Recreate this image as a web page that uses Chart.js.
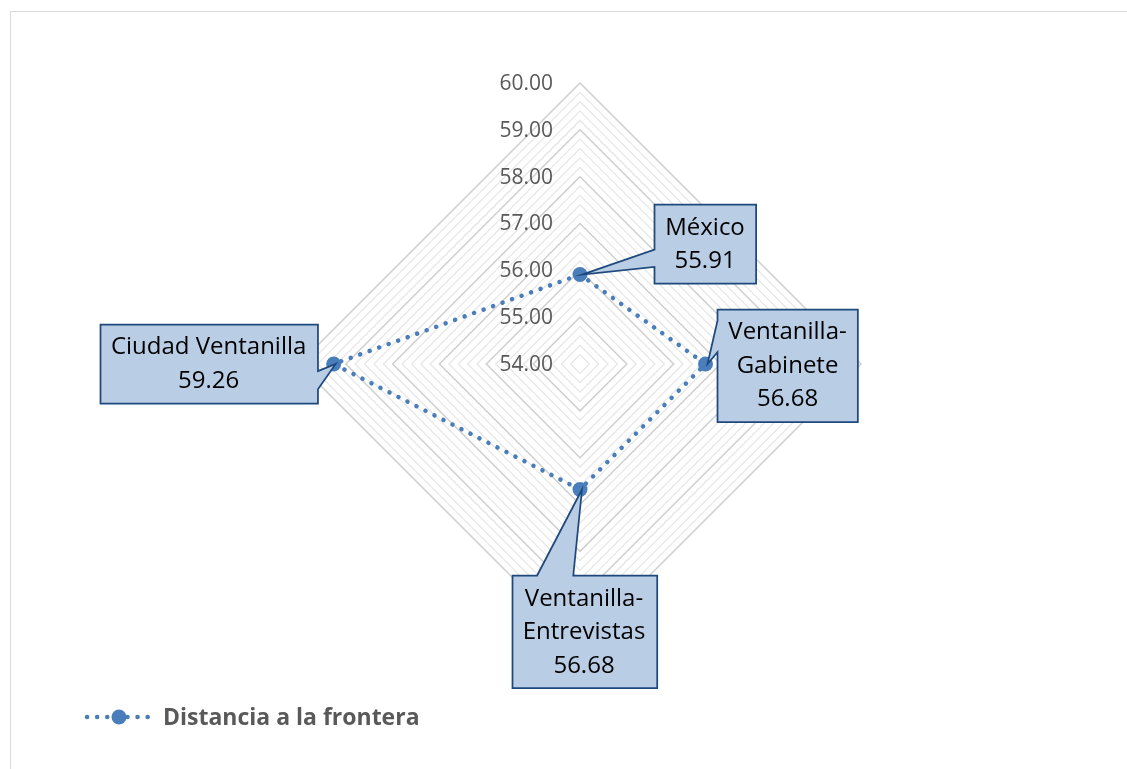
<!DOCTYPE html>
<html>
<head>
<meta charset="utf-8">
<script src="https://cdn.jsdelivr.net/npm/chart.js@4.4.1/dist/chart.umd.min.js"></script>
<style>
    body { margin: 0; background: #fff; overflow: hidden; }
    #frame { position: absolute; left: 10px; top: 11px; width: 1200px; height: 800px; border: 1px solid #d9d9d9; }
    #wrap { position: absolute; left: 0; top: 0; width: 1127px; height: 769px; }
</style>
</head>
<body>
<div id="frame"></div>
<div id="wrap"><canvas id="Chart"></canvas></div>
<script>
// data
const categories = ['México', 'Ventanilla-Gabinete', 'Ventanilla-Entrevistas', 'Ciudad Ventanilla'];
const distance = [55.91, 56.68, 56.68, 59.26];
const seriesName = 'Distancia a la frontera';
const tickLabels = [54, 55, 56, 57, 58, 59, 60];

const blue = '#4a7ebb';

// where each callout box sits relative to its point, and which edge the wedge comes out of
const calloutPlace = [
    { dx: 125, dy: -31, edge: 'left', b0: 0.57, b1: 0.79 },
    { dx: 82, dy: 1, edge: 'left', b0: 0.1, b1: 0.38 },
    { dx: 4, dy: 142, edge: 'top', b0: 0.17, b1: 0.42 },
    { dx: -125, dy: -1, edge: 'right', b0: 0.59, b1: 0.82 }
];

function calloutLines(i) {
    var name = categories[i];
    var lines = [];
    if (name.indexOf('-') > 0) {
        var parts = name.split('-');
        lines.push(parts[0] + '-');
        lines.push(parts[1]);
    } else {
        lines.push(name);
    }
    lines.push(distance[i].toFixed(2));
    return lines;
}

function drawCallout(ctx, tipX, tipY, x0, y0, x1, y1, place) {
    var w = x1 - x0, h = y1 - y0;
    ctx.beginPath();
    ctx.moveTo(x0, y0);
    if (place.edge == 'top') {
        ctx.lineTo(x0 + place.b0 * w, y0);
        ctx.lineTo(tipX, tipY);
        ctx.lineTo(x0 + place.b1 * w, y0);
    }
    ctx.lineTo(x1, y0);
    if (place.edge == 'right') {
        ctx.lineTo(x1, y0 + place.b0 * h);
        ctx.lineTo(tipX, tipY);
        ctx.lineTo(x1, y0 + place.b1 * h);
    }
    ctx.lineTo(x1, y1);
    ctx.lineTo(x0, y1);
    if (place.edge == 'left') {
        ctx.lineTo(x0, y0 + place.b1 * h);
        ctx.lineTo(tipX, tipY);
        ctx.lineTo(x0, y0 + place.b0 * h);
    }
    ctx.closePath();
    ctx.fillStyle = '#b9cde5';
    ctx.fill();
    ctx.strokeStyle = '#1f497d';
    ctx.lineWidth = 1.75;
    ctx.lineJoin = 'miter';
    ctx.stroke();
}

const extras = {
    id: 'extras',
    beforeDatasetsDraw(chart) {
        // tick labels, to the left of the vertical axis
        var ctx = chart.ctx;
        var scale = chart.scales.r;
        ctx.save();
        ctx.font = '21px "Open Sans"';
        ctx.fillStyle = '#595959';
        ctx.textAlign = 'right';
        ctx.textBaseline = 'middle';
        tickLabels.forEach(function (v) {
            var y = scale.yCenter - scale.getDistanceFromCenterForValue(v);
            ctx.fillText(v.toFixed(2), scale.xCenter - 27, y + 1);
        });
        ctx.restore();
    },
    afterDatasetsDraw(chart) {
        var ctx = chart.ctx;
        var meta = chart.getDatasetMeta(0);
        ctx.save();
        ctx.font = '24px "Open Sans"';
        ctx.textAlign = 'center';
        ctx.textBaseline = 'middle';
        var lineH = 33.5;
        meta.data.forEach(function (pt, i) {
            var place = calloutPlace[i];
            var lines = calloutLines(i);
            var tw = 0;
            lines.forEach(function (l) { tw = Math.max(tw, ctx.measureText(l).width); });
            var bw = tw + 22;
            var bh = lines.length * lineH + 12;
            var cx = pt.x + place.dx, cy = pt.y + place.dy;
            var x0 = Math.round(cx - bw / 2) + 0.5, y0 = Math.round(cy - bh / 2) + 0.5;
            drawCallout(ctx, pt.x + 2, pt.y, x0, y0, x0 + bw, y0 + bh, place);
            ctx.fillStyle = '#000000';
            lines.forEach(function (l, k) {
                ctx.fillText(l, cx, cy + (k - (lines.length - 1) / 2) * lineH + 1);
            });
        });
        ctx.restore();
    },
    afterDraw(chart) {
        // legend at the bottom left
        var ctx = chart.ctx;
        ctx.save();
        var y = 717;
        ctx.beginPath();
        ctx.moveTo(87, y);
        ctx.lineTo(154, y);
        ctx.setLineDash([0.1, 10]);
        ctx.lineCap = 'round';
        ctx.lineWidth = 4.5;
        ctx.strokeStyle = blue;
        ctx.stroke();
        ctx.setLineDash([]);
        ctx.beginPath();
        ctx.arc(119, y, 7.5, 0, Math.PI * 2);
        ctx.fillStyle = blue;
        ctx.fill();
        ctx.font = 'bold 23px "Open Sans"';
        ctx.fillStyle = '#595959';
        ctx.textAlign = 'left';
        ctx.textBaseline = 'middle';
        ctx.fillText(chart.data.datasets[0].label, 163, y + 1);
        ctx.restore();
    }
};

new Chart('Chart', {
    type: 'radar',
    data: {
        labels: categories,
        datasets: [{
            label: seriesName,
            data: distance,
            borderColor: blue,
            borderWidth: 4.5,
            borderDash: [0.1, 10],
            borderCapStyle: 'round',
            fill: false,
            tension: 0,
            pointRadius: 7.5,
            pointBackgroundColor: blue,
            pointBorderWidth: 0
        }]
    },
    options: {
        responsive: true,
        maintainAspectRatio: false,
        animation: false,
        layout: { padding: { left: 33, right: 0, top: 83, bottom: 124 } },
        plugins: {
            legend: { display: false },
            tooltip: { enabled: false }
        },
        scales: {
            r: {
                min: 54,
                max: 60,
                ticks: { display: false, stepSize: 0.2 },
                grid: {
                    lineWidth: function (c) {
                        var v = c.tick ? c.tick.value : 0;
                        return Math.abs(v - Math.round(v)) < 1e-6 ? 1.5 : 1.2;
                    },
                    color: function (c) {
                        var v = c.tick ? c.tick.value : 0;
                        return Math.abs(v - Math.round(v)) < 1e-6 ? '#cfcfcf' : '#e6e6e6';
                    }
                },
                angleLines: { display: false },
                pointLabels: { display: false }
            }
        }
    },
    plugins: [extras]
});
</script>
</body>
</html>
